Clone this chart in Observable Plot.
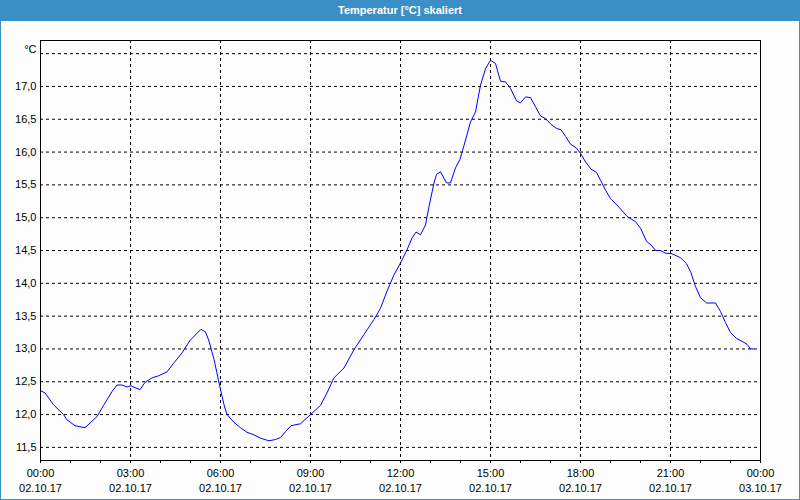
<!DOCTYPE html>
<html><head><meta charset="utf-8">
<script src="https://cdn.jsdelivr.net/npm/d3@7"></script>
<script src="https://cdn.jsdelivr.net/npm/@observablehq/plot@0.6"></script>
<style>
body{margin:0;background:#fff}
#wrap{position:relative;width:800px;height:500px;background:#fcfdfc;overflow:hidden}
#title{height:21px;background:#3b8fc7;color:#fff;font:bold 11px "Liberation Sans",sans-serif;text-align:center;line-height:20px}
#border{position:absolute;left:0;top:0;width:800px;height:500px;box-sizing:border-box;border:1px solid #3b8fc7;border-top:none;pointer-events:none}
#chart svg{display:block}
</style></head><body>
<div id="wrap"><div id="title">Temperatur [°C] skaliert</div><div id="chart"></div><div id="border"></div></div>
<script>
const times = ["00:01","00:09","00:26","00:46","00:53","01:09","01:29","01:53","02:06","02:23","02:33","02:43","02:53","03:01","03:09","03:19","03:29","03:43","03:56","04:13","04:26","04:43","04:59","05:21","05:30","05:37","05:47","05:53","06:00","06:07","06:13","06:27","06:40","06:53","07:07","07:20","07:37","07:50","08:00","08:10","08:21","08:40","09:00","09:20","09:33","09:47","10:07","10:27","10:47","11:07","11:20","11:33","11:47","12:00","12:13","12:23","12:31","12:40","12:50","12:57","13:07","13:12","13:20","13:32","13:40","13:50","13:59","14:07","14:20","14:30","14:40","14:50","15:00","15:10","15:20","15:30","15:40","15:52","16:00","16:10","16:20","16:30","16:40","16:50","17:00","17:12","17:21","17:30","17:40","17:52","18:00","18:10","18:21","18:32","18:40","18:50","19:00","19:17","19:33","19:50","20:00","20:12","20:23","20:30","20:40","20:50","21:03","21:20","21:32","21:41","21:50","22:00","22:12","22:30","22:40","22:50","23:00","23:12","23:27","23:33","23:40","23:47"];
const temps = [12.36,12.33,12.15,12.00,11.92,11.83,11.80,11.97,12.14,12.35,12.45,12.45,12.42,12.44,12.41,12.38,12.49,12.56,12.59,12.65,12.78,12.94,13.13,13.30,13.26,13.12,12.84,12.63,12.38,12.15,12.00,11.88,11.80,11.73,11.69,11.64,11.60,11.62,11.65,11.74,11.83,11.86,12.00,12.14,12.33,12.56,12.71,12.99,13.22,13.45,13.62,13.88,14.13,14.31,14.51,14.69,14.78,14.74,14.89,15.17,15.53,15.66,15.70,15.53,15.53,15.76,15.89,16.10,16.46,16.61,17.02,17.27,17.40,17.35,17.08,17.07,16.97,16.78,16.75,16.84,16.83,16.69,16.55,16.51,16.43,16.36,16.34,16.24,16.12,16.06,15.98,15.85,15.74,15.69,15.57,15.42,15.29,15.16,15.02,14.94,14.84,14.64,14.57,14.50,14.50,14.46,14.45,14.39,14.30,14.16,13.95,13.78,13.70,13.70,13.57,13.40,13.25,13.16,13.10,13.07,13.00,13.00];
const yTickValues = [11.5,12.0,12.5,13.0,13.5,14.0,14.5,15.0,15.5,16.0,16.5,17.0];
const yGridValues = [11.5,12.0,12.5,13.0,13.5,14.0,14.5,15.0,15.5,16.0,16.5,17.0,17.5];
const yDomain = [11.30, 17.70];
const labelHours = [0,3,6,9,12,15,18,21,24];
const gridHours = [3,6,9,12,15,18,21];
const minorHours = d3.range(0, 25);
const unitLabel = "°C";

const day = Date.UTC(2017, 9, 2);
const hourDate = h => new Date(day + h * 3600000);
const data = times.map((t, i) => {
  const [h, m] = t.split(":").map(Number);
  return {date: new Date(day + (h * 60 + m) * 60000), temp: temps[i]};
});
const fmtT = d3.utcFormat("%H:%M"), fmtD = d3.utcFormat("%d.%m.%y");

const chart = Plot.plot({
  width: 800, height: 479,
  marginLeft: 40, marginRight: 40, marginTop: 19, marginBottom: 40,
  style: {background: "transparent", fontFamily: "'Liberation Sans', sans-serif", fontSize: "11px", color: "black"},
  x: {type: "utc", domain: [hourDate(0), hourDate(24)], label: null},
  y: {domain: yDomain, label: null},
  marks: [
    Plot.gridY(yGridValues, {stroke: "black", strokeOpacity: 1, strokeDasharray: "3,3"}),
    Plot.gridX(gridHours.map(hourDate), {stroke: "black", strokeOpacity: 1, strokeDasharray: "3,3"}),
    Plot.frame({stroke: "black"}),
    Plot.line(data, {x: "date", y: "temp", stroke: "#0000ff", strokeWidth: 1}),
    Plot.axisY(yTickValues, {tickSize: 0, tickPadding: 4, tickFormat: d => d.toFixed(1).replace(".", ","), fontSize: 11}),
    Plot.text([unitLabel], {frameAnchor: "top-left", textAnchor: "end", dx: -4, dy: 5, fontSize: 11}),
    Plot.axisX(minorHours.map(hourDate), {tickSize: 3, tickFormat: () => ""}),
    Plot.axisX(labelHours.map(hourDate), {tickSize: 0, tickPadding: 6, fontSize: 11, lineHeight: 1.36, tickFormat: d => fmtT(d) + "\n" + fmtD(d)})
  ]
});
document.getElementById("chart").appendChild(chart);
</script>
</body></html>
